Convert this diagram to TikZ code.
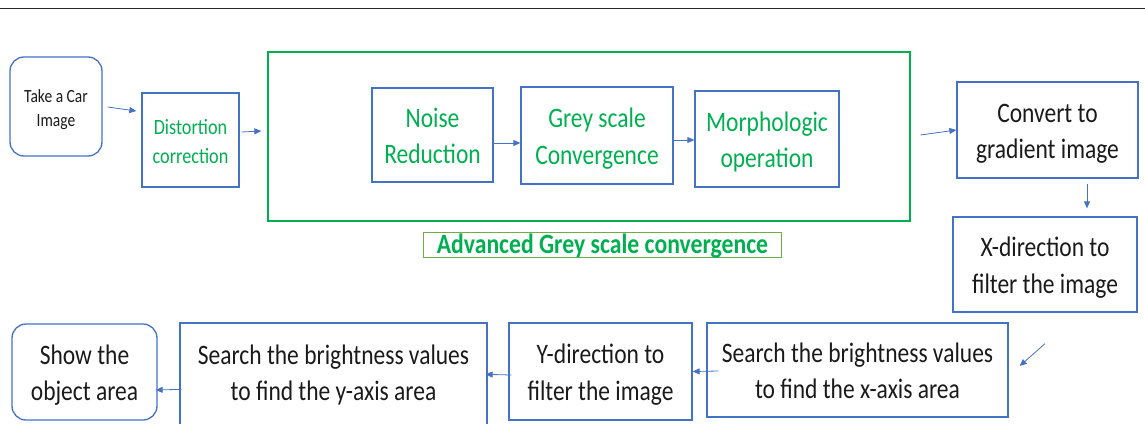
\documentclass[tikz,border=0pt]{standalone}
\usepackage{fontspec}
\usepackage{graphicx}
\setmainfont{Carlito}
\usetikzlibrary{arrows.meta,calc}
\definecolor{offblue}{HTML}{4472C4}
\definecolor{offgreen}{HTML}{00B050}
\definecolor{lightgreen}{HTML}{70AD47}
\definecolor{txt}{HTML}{1A1A1A}
\newcommand{\vs}[1]{\raisebox{-3pt}[\height][\depth]{\scalebox{1}[1.2]{\begin{tabular}{@{}c@{}}#1\end{tabular}}}}
\tikzset{
  box/.style={draw=offblue, line width=1.3pt, inner sep=0pt, align=center, text=txt},
  rbox/.style={box, rounded corners=14pt},
  arr/.style={draw=offblue, line width=0.8pt, -{Triangle[length=7pt,width=6pt]}},
  big/.style={font=\fontsize{23.5}{30.5}\selectfont},
}
\begin{document}
\begin{tikzpicture}[x=1pt,y=-1pt]
\useasboundingbox (0,0) rectangle (1145,423);
\clip (0,0) rectangle (1145,423);
\draw[line width=1pt, black!85] (0,8.5) -- (1145,8.5);
% top row
\node[rbox, minimum width=92, minimum height=99, font=\fontsize{15.5}{20}\selectfont] (car) at (56,106.5) {\vs{Take a Car\\Image}};
\node[box, minimum width=97, minimum height=94, text=offgreen, font=\fontsize{18.2}{24}\selectfont] (dist) at (190.5,140) {\vs{Distortion\\correction}};
\node[draw=offgreen, line width=1.3pt, minimum width=642, minimum height=169, inner sep=0pt] (adv) at (589,136.5) {};
\node[box, big, minimum width=121, minimum height=94, text=offgreen] (noise) at (432.5,135) {\vs{Noise\\Reduction}};
\node[box, big, minimum width=152, minimum height=97, text=offgreen] (grey) at (597,135.5) {\vs{Grey scale\\Convergence}};
\node[box, big, minimum width=144, minimum height=96, text=offgreen] (morph) at (767,139) {\vs{Morphologic\\operation}};
\node[draw=lightgreen, line width=1pt, minimum width=358, minimum height=25, inner sep=0pt, text height=21pt, text depth=4pt, text=offgreen, font=\fontsize{23.7}{26}\selectfont\bfseries] (lab) at (602.5,244.5) {\scalebox{1}[1.18]{Advanced Grey scale convergence}};
% right column
\node[box, big, minimum width=181, minimum height=96] (conv) at (1047.5,130) {\vs{Convert to\\gradient image}};
\node[box, big, minimum width=184, minimum height=95] (xdir) at (1045,264.5) {\vs{X-direction to\\filter the image}};
% bottom row
\node[box, big, minimum width=301, minimum height=94] (sx) at (857.5,370) {\vs{Search the brightness values\\to find the x-axis area}};
\node[box, big, minimum width=183, minimum height=97] (ydir) at (600.5,371.5) {\vs{Y-direction to\\filter the image}};
\node[box, minimum width=307, minimum height=127] (sy) at (333.5,386.5) {};
\path (sy.north) ++(0,50) node[big, text=txt, inner sep=0pt] (syt) {\vs{Search the brightness values\\to find the y-axis area}};
\node[rbox, big, minimum width=145, minimum height=96] (show) at (84.5,372) {\vs{Show the\\object area}};
% arrows
\draw[arr] ($(car.east)+(5,0.5)$) -- ($(dist.west)+(-5,-29)$);
\draw[arr] ($(dist.east)+(2,-8)$) -- ($(adv.west)+(-6,-5.5)$);
\draw[arr] ($(noise.east)+(0,8)$) -- ($(grey.west)+(0,7.5)$);
\draw[arr] ($(grey.east)+(0,4.5)$) -- ($(morph.west)+(0,1)$);
\draw[arr] ($(adv.east)+(10,-1.5)$) -- ($(conv.west)+(0,0)$);
\draw[arr] ($(conv.south)+(39.5,5)$) -- ($(xdir.north)+(42,-8)$);
\draw[arr] ($(xdir.south)+(0,31)$) -- ($(sx.east)+(11,-4)$);
\draw[arr] ($(sx.west)+(12,1)$) -- (ydir.east);
\draw[arr] ($(ydir.west)+(3,3.5)$) -- ($(sy.north east)+(-2,52)$);
\draw[arr] ($(sy.north west)+(2,67)$) -- ($(show.east)+(-2,18)$);
\end{tikzpicture}
\end{document}
